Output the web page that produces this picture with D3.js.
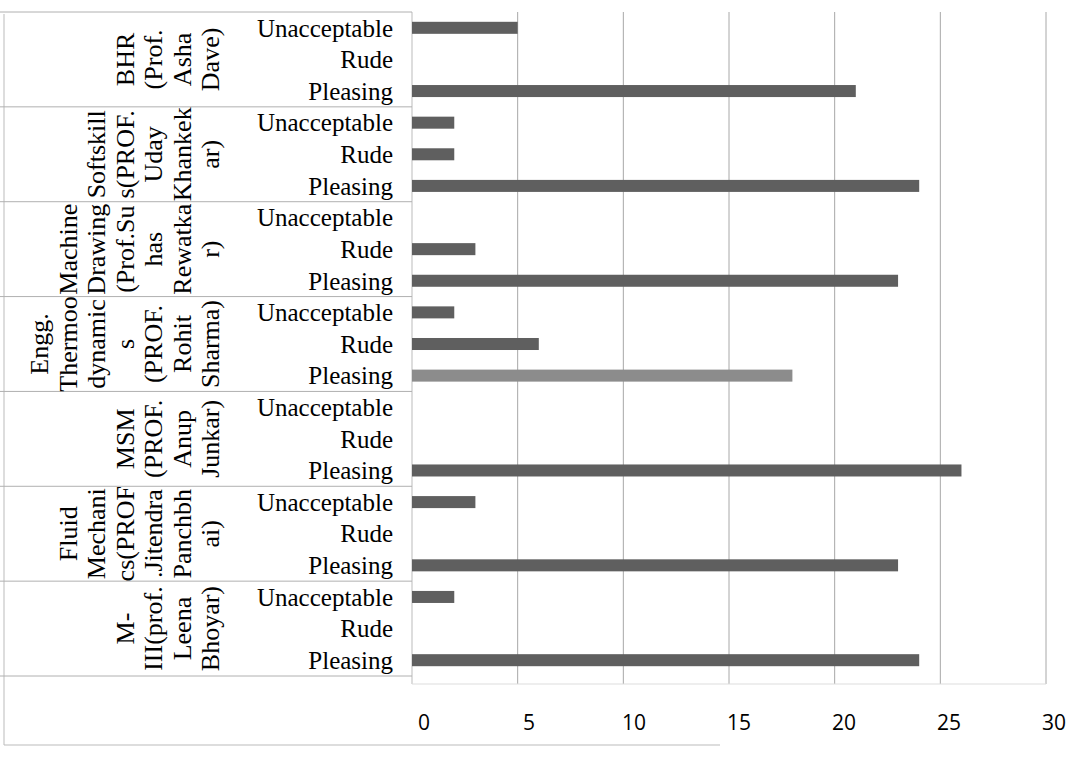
<!DOCTYPE html>
<html><head><meta charset="utf-8">
<script src="https://cdn.jsdelivr.net/npm/d3@7"></script>
<style>body{margin:0;background:#fff}</style>
</head><body>
<svg id="chart" width="1086" height="761"></svg>
<script>
const categories = ["BHR (Prof. Asha Dave)","Softskills(PROF. Uday Khankekar)","Machine Drawing (Prof.Suhas Rewatkar)","Engg. Thermoodynamics (PROF. Rohit Sharma)","MSM (PROF. Anup Junkar)","Fluid Mechanics(PROF .Jitendra Panchbhai)","M-III(prof. Leena Bhoyar)"];
const categoryLines = [
  ["BHR","(Prof.","Asha","Dave)"],
  ["Softskill","s(PROF.","Uday","Khankek","ar)"],
  ["Machine","Drawing","(Prof.Su","has","Rewatka","r)"],
  ["Engg.","Thermoo","dynamic","s","(PROF.","Rohit","Sharma)"],
  ["MSM","(PROF.","Anup","Junkar)"],
  ["Fluid","Mechani","cs(PROF",".Jitendra","Panchbh","ai)"],
  ["M-","III(prof.","Leena","Bhoyar)"]
];
const responses = ["Unacceptable","Rude","Pleasing"];
const unacceptable = [5,2,0,2,0,3,2];
const rude = [0,2,3,6,0,0,0];
const pleasing = [21,24,23,18,26,23,24];
const xTicks = [0,5,10,15,20,25,30];

(function(){
const series = [unacceptable, rude, pleasing];
const rows = [];
categories.forEach((c,i)=>responses.forEach((r,j)=>rows.push({cat:i,resp:r,key:i+"-"+r,value:series[j][i]})));

const svg = d3.select("#chart");
const yTop = 12, yBot = 676, x0 = 412, x1 = 1046;
const x = d3.scaleLinear().domain([0,30]).range([x0,x1]);
const y = d3.scaleBand().domain(rows.map(d=>d.key)).range([yTop,yBot]).paddingInner(0.62).paddingOuter(0.31);
const g = d3.scaleBand().domain(d3.range(categories.length)).range([yTop,yBot]);
const serif = "'Liberation Serif','Times New Roman',serif";

svg.append("path").attr("d","M4,14 L4,745 L720,745").attr("fill","none").attr("stroke","#bbb").attr("stroke-width",1);

svg.append("g").selectAll("line").data(xTicks.slice(1)).join("line")
  .attr("x1",d=>x(d)).attr("x2",d=>x(d)).attr("y1",yTop).attr("y2",yBot+8)
  .attr("stroke","#a8a8a8").attr("stroke-width",1);
svg.append("line").attr("x1",x0).attr("x2",x0).attr("y1",yTop).attr("y2",yBot+8).attr("stroke","#bbb");
svg.append("line").attr("x1",x0).attr("x2",x1).attr("y1",yBot+8).attr("y2",yBot+8).attr("stroke","#ddd");

svg.append("g").selectAll("line").data(d3.range(categories.length+1)).join("line")
  .attr("x1",0).attr("x2",x0)
  .attr("y1",d=>d<categories.length?g(d):yBot).attr("y2",d=>d<categories.length?g(d):yBot)
  .attr("stroke","#b0b0b0").attr("stroke-width",1);

svg.append("g").selectAll("rect").data(rows.filter(d=>d.value>0)).join("rect")
  .attr("x",x(0)).attr("y",d=>y(d.key)).attr("height",y.bandwidth())
  .attr("width",d=>x(d.value)-x(0))
  .attr("fill",d=>(d.cat===3&&d.resp==="Pleasing")?"#8c8c8c":"#5f5f5f");

svg.append("g").selectAll("text").data(rows).join("text")
  .attr("x",393).attr("y",d=>y(d.key)+y.bandwidth()/2)
  .attr("dy","0.35em").attr("text-anchor","end")
  .style("font-family",serif).style("font-size","25px").attr("fill","#000")
  .text(d=>d.resp);

const lh = 28.5;
categoryLines.forEach((lines,i)=>{
  const cy = g(i)+g.bandwidth()/2;
  const n = lines.length;
  lines.forEach((ln,k)=>{
    const cx = 210 - (n-1-k)*lh;
    svg.append("text")
      .attr("transform",`translate(${cx},${cy}) rotate(-90)`)
      .attr("text-anchor","middle").attr("dy","0.35em")
      .style("font-family",serif).style("font-size","26px").attr("fill","#000")
      .text(ln);
  });
});

const xl = d3.scaleLinear().domain([0,30]).range([424,1054]);
svg.append("g").selectAll("text").data(xTicks).join("text")
  .attr("x",d=>xl(d)).attr("y",730).attr("text-anchor","middle")
  .style("font-family","'Open Sans','Liberation Sans',sans-serif").style("font-size","21px").attr("fill","#000")
  .text(d=>d);
})();
</script>
</body></html>
